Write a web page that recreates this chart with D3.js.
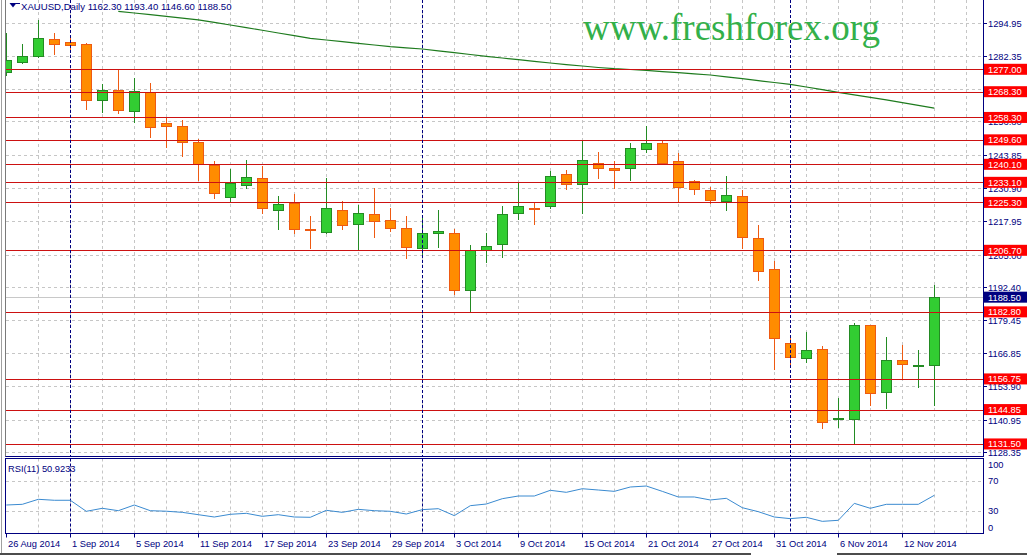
<!DOCTYPE html>
<html>
<head>
<meta charset="utf-8">
<script src="https://cdn.jsdelivr.net/npm/d3@7"></script>
<style>
html,body{margin:0;padding:0;background:#fff;}
svg{display:block;}
text{font-family:"Liberation Sans",Arial,sans-serif;}
</style>
</head>
<body>
<svg id="chart" width="1027" height="555"></svg>
<script>
// ---------------- DATA ----------------
const symbol = "XAUUSD";
const period = "Daily";
const monthNames = ["Aug","Sep","Oct","Nov"];
const barDays = [
  [26,27,28,29],
  [1,2,3,4,5,8,9,10,11,12,15,16,17,18,19,22,23,24,25,26,29,30],
  [1,2,3,6,7,8,9,10,13,14,15,16,17,20,21,22,23,24,27,28,29,30,31],
  [3,4,5,6,7,10,11,12,13,14]
];
const openV = [1275.8,1279.7,1282.05,1288.65,1287.6,1286.8,1265.0,1269.0,1260.7,1268.1,
  1256.0,1255.0,1248.65,1239.95,1227.5,1231.95,1234.7,1222.25,1225.2,1215.1,
  1213.95,1222.25,1216.8,1220.7,1218.4,1215.25,1207.5,1213.3,1213.3,1191.2,
  1206.9,1209.0,1221.1,1223.0,1223.8,1236.2,1232.3,1240.5,1238.55,1238.55,
  1245.9,1248.3,1241.3,1233.5,1230.0,1225.7,1227.7,1211.4,1199.3,1170.6,
  1164.8,1168.3,1141.1,1141.1,1177.6,1151.8,1164.0,1161.9,1162.30];
const highV = [1291.1,1286.8,1296.1,1291.2,1289.2,1287.3,1271.3,1277.0,1273.6,1271.7,
  1258.1,1257.3,1249.8,1241.3,1238.2,1241.7,1239.45,1227.8,1228.6,1220.0,
  1234.9,1225.85,1224.3,1230.8,1223.1,1220.0,1219.1,1222.4,1214.9,1208.8,
  1213.3,1223.9,1233.0,1225.2,1237.5,1237.9,1249.3,1244.9,1241.3,1248.4,
  1255.0,1249.3,1244.4,1234.0,1231.4,1235.6,1230.1,1216.4,1202.4,1173.7,
  1175.0,1169.4,1149.35,1178.4,1177.8,1173.0,1169.9,1168.0,1193.40];
const lowV = [1274.8,1279.5,1281.8,1282.8,1284.5,1261.7,1260.5,1260.1,1256.65,1250.8,
  1246.9,1243.45,1234.0,1227.1,1225.35,1231.0,1221.1,1215.1,1213.3,1207.5,
  1213.55,1215.1,1206.8,1212.0,1214.2,1203.8,1204.0,1208.1,1189.6,1182.6,
  1202.3,1204.2,1218.75,1216.8,1223.0,1230.4,1221.1,1234.9,1231.0,1234.1,
  1244.8,1240.1,1225.35,1228.5,1225.0,1222.2,1207.7,1195.3,1160.7,1161.3,
  1163.45,1137.6,1138.0,1131.5,1146.6,1145.6,1156.6,1153.75,1146.60];
const closeV = [1280.5,1282.2,1289.0,1286.7,1286.3,1265.0,1269.0,1261.1,1268.6,1254.7,
  1254.9,1248.9,1240.3,1229.1,1232.8,1235.05,1223.0,1224.7,1215.1,1214.5,
  1223.0,1216.4,1221.1,1218.0,1215.25,1207.9,1213.3,1214.1,1191.2,1206.7,
  1208.3,1220.7,1223.8,1222.6,1235.45,1232.3,1241.7,1238.55,1237.8,1246.3,
  1248.3,1240.5,1231.2,1230.4,1226.1,1228.1,1211.75,1198.55,1172.5,1165.15,
  1167.9,1139.9,1141.5,1177.6,1151.2,1164.0,1162.4,1162.3,1188.50];
const maV = [null,null,null,null,null,null,null,1299.52,1298.86,1298.20,
  1297.54,1296.88,1296.22,1295.21,1294.20,1293.16,1292.15,1291.10,1290.05,1289.04,
  1288.38,1287.72,1287.06,1286.44,1285.78,1285.31,1284.88,1284.15,1283.45,1282.75,
  1282.05,1281.39,1280.73,1280.11,1279.45,1278.83,1278.28,1277.70,1277.23,1276.92,
  1276.57,1276.11,1275.68,1275.21,1274.79,1274.05,1273.35,1272.61,1271.87,1271.17,
  1270.13,1269.08,1268.03,1267.10,1266.09,1265.12,1264.07,1262.98,1261.89];
const rsiV = [38,38.9,45.6,44.3,44.3,29.6,33.6,30.4,38,30.4,
  29.7,28.2,25.1,22,25.6,26.9,22.9,25.1,22,21.6,
  30.9,28.2,32.2,30.4,29.6,26,31.8,33.1,23.8,37.1,
  39.3,46.4,50,50,57.6,54.9,59.7,58,56.2,62,
  63.3,56.2,48.7,48.7,44.7,46.9,34.4,29.1,22,19.8,
  21.6,16.2,17.6,40.2,33.6,38.9,38.9,38.9,50.92];
const rsiLabel = "RSI(11) 50.9233";
const levels = [1277.00,1268.30,1258.30,1249.60,1240.10,1233.10,1225.30,1206.70,1182.80,1156.75,1144.85,1131.50];
const priceTicks = [1294.95,1282.35,1269.40,1256.80,1243.85,1230.90,1217.95,1205.00,1192.40,1179.45,1166.85,1153.90,1140.95,1128.35];
const rsiTicks = [100,70,30,0];
const rsiGrid = [70,30];
const watermark = "www.freshforex.org";

// ---------------- BUILD ----------------
const dates = [];
const firstOfMonth = [];
barDays.forEach((days,mi)=>days.forEach((d,di)=>{
  if (di===0 && mi>0) firstOfMonth.push(dates.length);
  dates.push(d+" "+monthNames[mi]+" 2014");
}));
const bars = dates.map((d,i)=>({i, date:d, o:openV[i], h:highV[i], l:lowV[i], c:closeV[i]}));
const N = bars.length;

const L = 6, R = 983, mainTop = 0, mainBot = 457, rsiTop = 458.5, rsiBot = 533.5;
const barStep = 16;
const x = d3.scaleLinear().domain([0, N-1]).range([6.3, 6.3 + barStep*(N-1)]);
const y = d3.scaleLinear().domain([1126.43, 1303.91]).range([mainBot, mainTop]);
const yR = d3.scaleLinear().domain([0,100]).range([rsiBot, rsiTop]);

const navy = "#000080", gridC = "#c6c6c6";
const svg = d3.select("#chart");
const cx = i => Math.round(x(i)) + 0.5;
const py = v => Math.round(y(v)) + 0.5;

const defs = svg.append("defs");
defs.append("clipPath").attr("id","clipMain").append("rect").attr("x",L).attr("y",mainTop).attr("width",R-L).attr("height",mainBot-mainTop);
defs.append("clipPath").attr("id","clipRsi").append("rect").attr("x",L).attr("y",rsiTop).attr("width",R-L).attr("height",rsiBot-rsiTop);

// window frame left
svg.append("line").attr("x1",1.5).attr("x2",1.5).attr("y1",0).attr("y2",553).attr("stroke","#a0a0a0");

// vertical grid positions (every 2 bars)
const vgrid = d3.range(2, 62, 2).filter(i => x(i) < R);
const gMain = svg.append("g").attr("clip-path","url(#clipMain)");
const gRsi = svg.append("g").attr("clip-path","url(#clipRsi)");

// main grid
gMain.selectAll(".vg").data(vgrid).join("line")
  .attr("x1",cx).attr("x2",cx).attr("y1",mainTop).attr("y2",mainBot)
  .attr("stroke",gridC).attr("stroke-dasharray","3,3");
gMain.selectAll(".hg").data(priceTicks).join("line")
  .attr("x1",L).attr("x2",R).attr("y1",py).attr("y2",py)
  .attr("stroke",gridC).attr("stroke-dasharray","3,3");

// bid line
gMain.append("line").attr("x1",L).attr("x2",R).attr("y1",py(closeV[N-1])).attr("y2",py(closeV[N-1]))
  .attr("stroke","#c8c8c8");

// MA line
const maLine = d3.line().defined(d=>d.v!=null).x(d=>x(d.i)).y(d=>y(d.v));
gMain.append("path").datum(maV.map((v,i)=>({i,v})))
  .attr("d",maLine).attr("fill","none").attr("stroke","#1e7b1e").attr("stroke-width",1.2);

// candles
const bull = "#32cd32", bullS = "#238b23", bear = "#ff8c00", bearS = "#ee5a12";
const cg = gMain.selectAll(".candle").data(bars).join("g");
cg.append("line")
  .attr("x1",d=>cx(d.i)).attr("x2",d=>cx(d.i))
  .attr("y1",d=>Math.round(y(d.h))).attr("y2",d=>Math.round(y(d.l))+1)
  .attr("stroke",d=>d.c>=d.o?bullS:bearS).attr("stroke-width",1);
cg.append("rect")
  .attr("x",d=>Math.round(x(d.i))-4.5).attr("width",10)
  .attr("y",d=>py(Math.max(d.o,d.c)))
  .attr("height",d=>Math.max(1, py(Math.min(d.o,d.c)) - py(Math.max(d.o,d.c))))
  .attr("fill",d=>d.c>=d.o?bull:bear)
  .attr("stroke",d=>d.c>=d.o?bullS:bearS).attr("stroke-width",1);

// red horizontal levels
gMain.selectAll(".lvl").data(levels).join("line")
  .attr("x1",L).attr("x2",R).attr("y1",py).attr("y2",py)
  .attr("stroke","#cc1111").attr("stroke-width",1);

// month separators
gMain.selectAll(".sep").data(firstOfMonth).join("line")
  .attr("x1",cx).attr("x2",cx).attr("y1",mainTop).attr("y2",mainBot)
  .attr("stroke",navy).attr("stroke-dasharray","3,2");

// RSI panel
gRsi.selectAll(".vg").data(vgrid).join("line")
  .attr("x1",cx).attr("x2",cx).attr("y1",rsiTop).attr("y2",rsiBot)
  .attr("stroke",gridC).attr("stroke-dasharray","3,3");
gRsi.selectAll(".hg").data(rsiGrid).join("line")
  .attr("x1",L).attr("x2",R).attr("y1",d=>Math.round(yR(d))+0.5).attr("y2",d=>Math.round(yR(d))+0.5)
  .attr("stroke",gridC).attr("stroke-dasharray","3,3");
gRsi.selectAll(".sep").data(firstOfMonth).join("line")
  .attr("x1",cx).attr("x2",cx).attr("y1",rsiTop).attr("y2",rsiBot)
  .attr("stroke",navy).attr("stroke-dasharray","3,2");
gRsi.append("path").datum(rsiV.map((v,i)=>({i,v})))
  .attr("d",d3.line().x(d=>x(d.i)).y(d=>yR(d.v)))
  .attr("fill","none").attr("stroke","#3a8ad0").attr("stroke-width",1);

// watermark
svg.append("text").attr("x",583).attr("y",40).text(watermark)
  .style("font-family","'Liberation Serif','Times New Roman',serif")
  .attr("font-size",37).attr("fill","#33b04a");

// frames
svg.append("line").attr("x1",5.5).attr("x2",5.5).attr("y1",0).attr("y2",mainBot).attr("stroke","#7a7a7a");
svg.append("line").attr("x1",R+0.5).attr("x2",R+0.5).attr("y1",0).attr("y2",mainBot).attr("stroke",navy);
svg.append("line").attr("x1",5.5).attr("x2",R+0.5).attr("y1",mainBot-0.5).attr("y2",mainBot-0.5).attr("stroke",navy);
svg.append("rect").attr("x",5.5).attr("y",rsiTop).attr("width",R-5).attr("height",rsiBot-rsiTop)
  .attr("fill","none").attr("stroke",navy);

// price axis labels
const fs = 9.3;
svg.selectAll(".pt").data(priceTicks).join("g").each(function(v){
  const g = d3.select(this), yy = py(v);
  g.append("line").attr("x1",R).attr("x2",R+4).attr("y1",yy).attr("y2",yy).attr("stroke",navy);
  g.append("text").attr("x",988).attr("y",yy+3.3).attr("font-size",fs).attr("fill",navy).text(v.toFixed(2));
});
// level labels
svg.selectAll(".ll").data(levels).join("g").each(function(v){
  const g = d3.select(this), yy = y(v);
  g.append("rect").attr("x",984).attr("y",yy-5.5).attr("width",43).attr("height",11).attr("fill","#ff0000");
  g.append("text").attr("x",988).attr("y",yy+3.4).attr("font-size",fs).attr("fill","#fff").text(v.toFixed(2));
});
// bid label
{
  const v = closeV[N-1], yy = y(v);
  svg.append("rect").attr("x",984).attr("y",yy-5.5).attr("width",43).attr("height",11).attr("fill",navy);
  svg.append("text").attr("x",988).attr("y",yy+3.4).attr("font-size",fs).attr("fill","#fff").text(v.toFixed(2));
}
// RSI axis labels
svg.selectAll(".rt").data(rsiTicks).join("text")
  .attr("x",988).attr("y",d=>Math.min(rsiBot-6, Math.max(rsiTop+6, yR(d)))+3.3)
  .attr("font-size",fs).attr("fill",navy).text(d=>d);

// date axis
const labelIdx = d3.range(0, N, 4);
svg.selectAll(".dt").data(labelIdx).join("line")
  .attr("x1",cx).attr("x2",cx).attr("y1",rsiBot).attr("y2",rsiBot+4).attr("stroke",navy);
svg.selectAll(".dl").data(labelIdx).join("text")
  .attr("x",i=>Math.round(x(i))+2).attr("y",546.5).attr("font-size",fs).attr("fill",navy)
  .text(i=>dates[i]);

// bottom strip line
svg.append("line").attr("x1",0).attr("x2",751).attr("y1",554).attr("y2",554).attr("stroke","#111").attr("stroke-width",1.5);
svg.append("line").attr("x1",837).attr("x2",1027).attr("y1",554).attr("y2",554).attr("stroke","#111").attr("stroke-width",1.5);

// title
svg.append("path").attr("d","M9.5,3 L16.5,3 L13,7.5 Z").attr("fill",navy);
svg.append("line").attr("x1",16).attr("x2",20).attr("y1",3.5).attr("y2",3.5).attr("stroke",navy);
const last = bars[N-1];
svg.append("text").attr("x",21).attr("y",9.5).attr("font-size",9.6).attr("fill",navy)
  .text(`${symbol},${period} ${last.o.toFixed(2)} ${last.h.toFixed(2)} ${last.l.toFixed(2)} ${last.c.toFixed(2)}`);
svg.append("text").attr("x",8).attr("y",471.5).attr("font-size",fs).attr("fill",navy).text(rsiLabel);
</script>
</body>
</html>
